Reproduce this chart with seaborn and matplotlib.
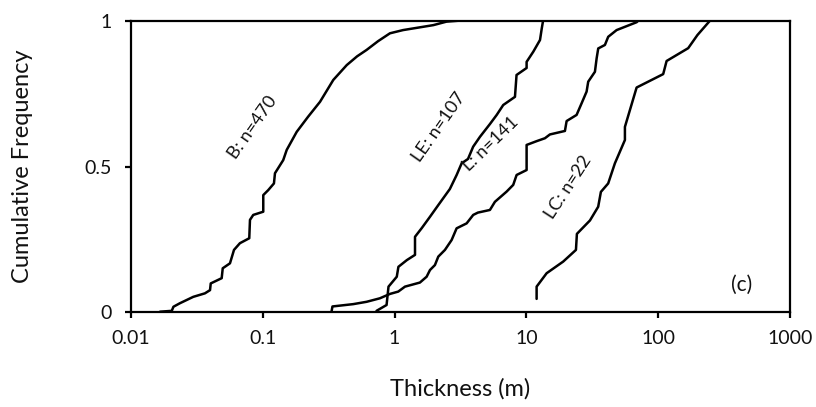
import matplotlib
matplotlib.use("Agg")
import matplotlib.pyplot as plt
import seaborn as sns
import pandas as pd
from matplotlib.ticker import FixedLocator, FixedFormatter, NullLocator

# ---- data ----
b_x = [0.0166, 0.0204, 0.0210, 0.0235, 0.0297, 0.0364, 0.0398, 0.0403, 0.0488, 0.0497,
       0.0564, 0.0605, 0.0671, 0.0790, 0.0800, 0.0847, 0.1009, 0.1009, 0.110, 0.1216,
       0.1238, 0.143, 0.152, 0.181, 0.221, 0.272, 0.343, 0.434, 0.52, 0.614, 0.75, 0.923,
       1.16, 1.97, 2.48, 3.03]
b_y = [0.002, 0.005, 0.019, 0.031, 0.053, 0.065, 0.076, 0.099, 0.117, 0.151,
       0.168, 0.214, 0.237, 0.254, 0.317, 0.334, 0.345, 0.402, 0.419, 0.442,
       0.477, 0.522, 0.557, 0.619, 0.671, 0.722, 0.797, 0.848, 0.878, 0.900, 0.930, 0.957,
       0.968, 0.985, 0.997, 1.0]

le_x = [0.73, 0.87, 0.90, 1.04, 1.07, 1.24, 1.43, 1.43, 1.61, 1.86,
        2.15, 2.63, 2.96, 3.23, 3.61, 3.95, 4.45, 5.30, 5.96, 6.68,
        8.20, 8.43, 10.05, 10.05, 11.3, 12.7, 13.1, 13.4]
le_y = [0.005, 0.025, 0.088, 0.122, 0.156, 0.179, 0.197, 0.259, 0.289, 0.328,
        0.368, 0.423, 0.471, 0.511, 0.526, 0.568, 0.602, 0.646, 0.677, 0.711,
        0.739, 0.814, 0.838, 0.859, 0.894, 0.934, 0.974, 1.0]

l_x = [0.333, 0.338, 0.486, 0.614, 0.774, 0.923, 1.067, 1.200, 1.558, 1.752,
       1.858, 2.025, 2.148, 2.413, 2.712, 2.958, 3.524, 3.954, 4.294, 5.294,
       5.778, 7.088, 7.954, 8.44, 10.05, 10.05, 11.97, 13.84, 15.10, 19.63,
       20.22, 24.07, 26.28, 28.67, 29.49, 33.16, 34.16, 35.13, 39.48, 41.82,
       48.43, 68.7, 70.6]
l_y = [0.004, 0.020, 0.028, 0.036, 0.048, 0.063, 0.071, 0.088, 0.102, 0.122,
       0.145, 0.162, 0.191, 0.214, 0.248, 0.288, 0.305, 0.334, 0.342, 0.351,
       0.379, 0.414, 0.437, 0.471, 0.488, 0.574, 0.587, 0.597, 0.610, 0.622,
       0.656, 0.677, 0.717, 0.757, 0.791, 0.825, 0.871, 0.905, 0.917, 0.945,
       0.968, 0.995, 1.0]

lc_x = [11.97, 11.97, 14.26, 19.05, 23.8, 24.2, 30.4, 35.1, 36.8, 41.8,
        47.0, 56.0, 56.0, 68.7, 109.3, 116.0, 169.2, 198.8, 247.2]
lc_y = [0.046, 0.088, 0.134, 0.174, 0.214, 0.269, 0.315, 0.362, 0.413, 0.442,
        0.511, 0.591, 0.636, 0.771, 0.817, 0.862, 0.906, 0.951, 1.0]

series_names = ["B", "LE", "L", "LC"]
series_labels = ["B: n=470", "LE: n=107", "L: n=141", "LC: n=22"]
label_x = [0.0842, 2.17, 5.39, 21.0]
label_y = [0.635, 0.634, 0.577, 0.430]
label_rot = [55, 55, 44, 57]

x_ticks = [0.01, 0.1, 1, 10, 100, 1000]
x_ticklabels = ["0.01", "0.1", "1", "10", "100", "1000"]
y_ticks = [0, 0.5, 1]
y_ticklabels = ["0", "0.5", "1"]

# ---- style ----
sns.set_style("ticks")
plt.rcParams["font.family"] = ["Lato", "DejaVu Sans"]

frames = []
for name, xs, ys in zip(series_names, [b_x, le_x, l_x, lc_x], [b_y, le_y, l_y, lc_y]):
    frames.append(pd.DataFrame({"thickness": xs, "cf": ys, "set": name}))
df = pd.concat(frames, ignore_index=True)

fig = plt.figure(figsize=(8.16, 4.07), dpi=100)
ax = fig.add_axes([0.1605, 0.2327, 0.968 - 0.1605, 0.949 - 0.2327])

for name in series_names:
    sub = df[df["set"] == name]
    sns.lineplot(data=sub, x="thickness", y="cf", sort=False, estimator=None,
                 color="black", linewidth=1.8, ax=ax, legend=False)

ax.set_xscale("log")
ax.set_xlim(0.01, 1000)
ax.set_ylim(0, 1)
ax.xaxis.set_major_locator(FixedLocator(x_ticks))
ax.xaxis.set_major_formatter(FixedFormatter(x_ticklabels))
ax.xaxis.set_minor_locator(NullLocator())
ax.yaxis.set_major_locator(FixedLocator(y_ticks))
ax.yaxis.set_major_formatter(FixedFormatter(y_ticklabels))

for s in ax.spines.values():
    s.set_visible(True)
    s.set_color("black")
    s.set_linewidth(1.6)
ax.tick_params(axis="both", direction="out", length=4.5, width=1.6, color="black",
               labelsize=14, labelcolor="#111111")
ax.tick_params(axis="y", pad=9)
ax.tick_params(axis="x", pad=8)

ax.set_xlabel("Thickness (m)", fontsize=17, color="#111111")
ax.set_ylabel("Cumulative Frequency", fontsize=17, color="#111111")
ax.xaxis.set_label_coords(0.5, -0.225)
ax.yaxis.set_label_coords(-0.149, 0.5)

for txt, lx, ly, rot in zip(series_labels, label_x, label_y, label_rot):
    ax.text(lx, ly, txt, rotation=rot, rotation_mode="anchor", ha="center", va="center",
            fontsize=13, color="#111111")
ax.text(432, 0.094, "(c)", ha="center", va="center", fontsize=15, color="#111111")

fig.savefig("out.png", dpi=100)
